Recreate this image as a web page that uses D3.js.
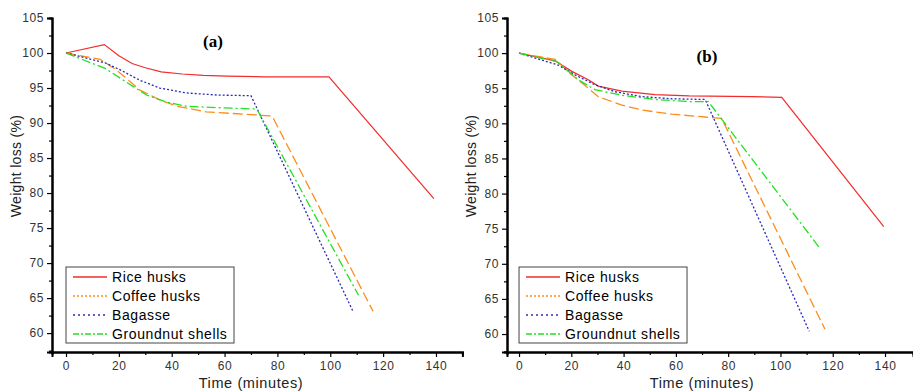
<!DOCTYPE html>
<html>
<head>
<meta charset="utf-8">
<script src="https://cdn.jsdelivr.net/npm/d3@7"></script>
<style>
  body { margin: 0; background: #fff; }
  .sans { font-family: Arial, "Liberation Sans", sans-serif; }
  .serif { font-family: "Liberation Serif", "DejaVu Serif", serif; }
</style>
</head>
<body>
<svg id="chart" width="913" height="391"></svg>
<script>
// panel (a)
const riceA_t = [0, 14.5, 20, 25, 30, 36, 44, 52, 61, 75, 99.5, 139.2]
const riceA_w = [100, 101.2, 99.6, 98.5, 97.9, 97.3, 97.0, 96.8, 96.7, 96.6, 96.6, 79.2]
const coffeeA_t = [0, 13, 19, 24, 28, 35.5, 42, 53, 70, 78, 116.2]
const coffeeA_w = [100, 99.1, 97.6, 96.0, 94.7, 93.3, 92.4, 91.6, 91.2, 91.0, 63.1]
const bagasseA_t = [0, 14.8, 20.5, 28, 35.5, 45.5, 57, 70, 108.6]
const bagasseA_w = [100, 98.6, 97.6, 96.1, 95.0, 94.3, 94.0, 93.9, 63.1]
const groundA_t = [0, 14.8, 23, 30.5, 38, 45.5, 57, 72.2, 110.7]
const groundA_w = [100, 97.8, 95.8, 94.0, 93.0, 92.4, 92.2, 92.0, 65.4]

// panel (b)
const riceB_t = [0, 13.8, 20.2, 26.5, 30.3, 39.3, 52, 65, 89, 100.5, 139.5]
const riceB_w = [100, 98.9, 97.4, 96.2, 95.3, 94.6, 94.1, 93.9, 93.8, 93.7, 75.3]
const coffeeB_t = [0, 13.8, 20.2, 26.5, 30.3, 39.3, 47, 58.4, 71.2, 77.5, 117]
const coffeeB_w = [100, 99.1, 96.9, 95.0, 93.8, 92.6, 91.9, 91.3, 90.9, 90.7, 60.7]
const bagasseB_t = [0, 15, 21.4, 29, 36.7, 47, 58.4, 71.2, 111]
const bagasseB_w = [100, 98.3, 96.9, 95.5, 94.5, 93.8, 93.5, 93.4, 60.4]
const groundB_t = [0, 14.5, 22.7, 29, 39.3, 52, 64.8, 72.4, 115.1]
const groundB_w = [100, 98.8, 96.2, 94.8, 94.0, 93.4, 93.1, 93.1, 72.2]

const seriesNames = ["Rice husks", "Coffee husks", "Bagasse", "Groundnut shells"]
const seriesColors = ["#f32b2b", "#ff8c1a", "#2a2ab4", "#22e022"]
const plotDash = [null, "10,4", "2,2", "9,3,2,3"]
const legendDash = [null, "2,2", "2,3", "6,2,2,2"]

const yTicks = [60, 65, 70, 75, 80, 85, 90, 95, 100, 105]
const xTicks = [0, 20, 40, 60, 80, 100, 120, 140]

const svg = d3.select("#chart")

function zip(t, w) { return t.map((d, i) => [d, w[i]]) }

function drawPanel(opt) {
  let x = d3.scaleLinear().domain(opt.xDomain).range(opt.xRange)
  let y = d3.scaleLinear().domain(opt.yDomain).range([352, 18])
  let g = svg.append("g")

  let line = d3.line().x(d => x(d[0])).y(d => y(d[1]))

  opt.series.forEach((s, i) => {
    g.append("path")
      .datum(s)
      .attr("d", line)
      .attr("fill", "none")
      .attr("stroke", seriesColors[i])
      .attr("stroke-width", i == 0 ? 1.2 : 1.3)
      .attr("stroke-dasharray", plotDash[i])
  })

  // axes
  let yAxis = d3.axisLeft(y).tickValues(yTicks).tickSize(5).tickPadding(3).tickFormat(d3.format("d"))
  let yMinor = d3.axisLeft(y).tickValues(d3.range(57.5, 105, 5)).tickSize(3).tickFormat("")
  let xAxis = d3.axisBottom(x).tickValues(xTicks).tickSize(5).tickPadding(4).tickFormat(d3.format("d"))
  let xMinor = d3.axisBottom(x).tickValues(d3.range(10, 150, 20)).tickSize(3).tickFormat("")

  let ya = g.append("g").attr("transform", `translate(${opt.xRange[0]},0)`).call(yAxis)
  g.append("g").attr("transform", `translate(${opt.xRange[0]},0)`).call(yMinor)
  let xa = g.append("g").attr("transform", "translate(0,352)").call(xAxis)
  g.append("g").attr("transform", "translate(0,352)").call(xMinor)

  g.selectAll(".domain").attr("stroke", "#000").attr("stroke-width", 2)
  g.selectAll(".tick line").attr("stroke", "#000").attr("stroke-width", 1.2)
  g.selectAll(".tick text")
    .attr("class", "sans")
    .attr("font-family", null)
    .attr("font-size", 12)
    .attr("letter-spacing", 0.6)
    .attr("fill", "#333")

  // axis titles
  g.append("text")
    .attr("class", "sans")
    .attr("transform", `translate(${opt.xRange[0] - 35},166) rotate(-90)`)
    .attr("text-anchor", "middle")
    .attr("dominant-baseline", "middle")
    .attr("font-size", 14)
    .attr("letter-spacing", 0.3)
    .attr("fill", "#222")
    .text("Weight loss (%)")

  g.append("text")
    .attr("class", "sans")
    .attr("x", x(70))
    .attr("y", 388)
    .attr("text-anchor", "middle")
    .attr("font-size", 14.5)
    .attr("letter-spacing", 0.6)
    .attr("fill", "#222")
    .text("Time (minutes)")

  g.append("text")
    .attr("class", "serif")
    .attr("x", opt.title[0])
    .attr("y", opt.title[1])
    .attr("text-anchor", "middle")
    .attr("dominant-baseline", "middle")
    .attr("font-weight", "bold")
    .attr("font-size", 17)
    .text(opt.label)

  // legend
  let lx = x(0), ly = 267
  g.append("rect")
    .attr("x", lx).attr("y", ly)
    .attr("width", 168).attr("height", 76)
    .attr("fill", "#fff").attr("stroke", "#444").attr("stroke-width", 1)

  seriesNames.forEach((n, i) => {
    let cy = ly + 10 + i * 19
    g.append("line")
      .attr("x1", lx + 7).attr("x2", lx + 41)
      .attr("y1", cy).attr("y2", cy)
      .attr("stroke", seriesColors[i])
      .attr("stroke-width", 1.3)
      .attr("stroke-dasharray", legendDash[i])
    g.append("text")
      .attr("class", "sans")
      .attr("x", lx + 46).attr("y", cy + 1)
      .attr("dominant-baseline", "middle")
      .attr("font-size", 14)
      .attr("letter-spacing", 0.6)
      .attr("fill", "#000")
      .text(n)
  })
}

drawPanel({
  xDomain: [-5.3, 150], xRange: [52, 462.4], yDomain: [57.3, 105],
  title: [213, 43], label: "(a)",
  series: [zip(riceA_t, riceA_w), zip(coffeeA_t, coffeeA_w), zip(bagasseA_t, bagasseA_w), zip(groundA_t, groundA_w)]
})

drawPanel({
  xDomain: [-4.6, 150.7], xRange: [507, 913], yDomain: [57.44, 105],
  title: [707, 58], label: "(b)",
  series: [zip(riceB_t, riceB_w), zip(coffeeB_t, coffeeB_w), zip(bagasseB_t, bagasseB_w), zip(groundB_t, groundB_w)]
})
</script>
</body>
</html>
